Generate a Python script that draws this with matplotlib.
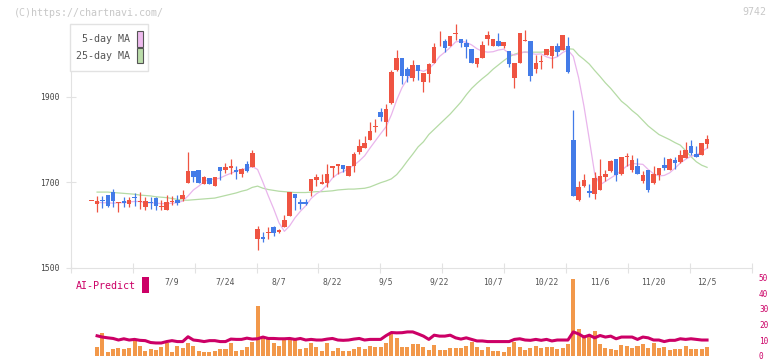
import numpy as np
import matplotlib
matplotlib.use("Agg")
import matplotlib.pyplot as plt
from matplotlib.patches import Rectangle

plt.rcParams['font.family'] = ['DejaVu Sans Mono']

# daily candles (yen), oldest first, last one is 12/5
opens = [1656, 1649, 1659, 1670, 1677, 1651, 1656, 1650, 1666, 1653,
         1641, 1654, 1663, 1641, 1635, 1653, 1659, 1661, 1699, 1727,
         1729, 1696, 1709, 1692, 1736, 1729, 1733, 1729, 1720, 1743,
         1736, 1567, 1572, 1580, 1596, 1584, 1594, 1620, 1673, 1654,
         1654, 1680, 1706, 1697, 1699, 1734, 1739, 1741, 1715, 1737,
         1772, 1781, 1799, 1829, 1865, 1842, 1886, 1963, 1992, 1966,
         1944, 1975, 1936, 1954, 1979, 2030, 2030, 2020, 2047, 2037,
         2026, 2012, 1977, 1992, 2037, 2020, 2031, 2020, 2008, 1945,
         1979, 2031, 2031, 1966, 1981, 1998, 1995, 2020, 2009, 2020,
         1800, 1659, 1692, 1680, 1673, 1682, 1713, 1727, 1755, 1720,
         1760, 1729, 1737, 1704, 1729, 1698, 1717, 1741, 1729, 1752,
         1748, 1758, 1784, 1766, 1764, 1789]
highs = [1656, 1667, 1668, 1671, 1684, 1653, 1666, 1665, 1674, 1677,
         1665, 1666, 1666, 1659, 1670, 1668, 1670, 1682, 1770, 1727,
         1729, 1715, 1709, 1713, 1736, 1745, 1754, 1738, 1734, 1750,
         1776, 1598, 1584, 1595, 1598, 1590, 1623, 1677, 1673, 1660,
         1661, 1708, 1720, 1719, 1743, 1738, 1743, 1741, 1738, 1772,
         1801, 1809, 1841, 1848, 1873, 1884, 1963, 2010, 1992, 1971,
         1987, 1975, 1957, 1980, 2026, 2055, 2036, 2043, 2071, 2037,
         2036, 2012, 1991, 2030, 2055, 2036, 2049, 2028, 2008, 1979,
         2049, 2057, 2031, 1998, 1998, 2013, 2020, 2026, 2045, 2041,
         1869, 1702, 1719, 1696, 1723, 1755, 1729, 1752, 1755, 1760,
         1768, 1764, 1758, 1727, 1729, 1738, 1733, 1760, 1758, 1760,
         1776, 1795, 1799, 1784, 1793, 1811]
lows = [1656, 1631, 1639, 1643, 1641, 1631, 1643, 1643, 1645, 1638,
        1635, 1637, 1635, 1635, 1635, 1647, 1646, 1657, 1699, 1700,
        1699, 1695, 1695, 1692, 1705, 1722, 1719, 1708, 1713, 1725,
        1736, 1541, 1561, 1568, 1573, 1582, 1594, 1620, 1635, 1637,
        1647, 1668, 1691, 1697, 1689, 1713, 1720, 1725, 1715, 1725,
        1766, 1781, 1799, 1819, 1844, 1809, 1883, 1961, 1931, 1936,
        1937, 1940, 1912, 1936, 1979, 2020, 2006, 2020, 2034, 2016,
        1991, 1980, 1971, 1992, 2022, 2020, 2020, 2014, 1971, 1922,
        1979, 2030, 1938, 1956, 1966, 1998, 1969, 1995, 2009, 1957,
        1669, 1657, 1690, 1666, 1661, 1682, 1704, 1725, 1704, 1718,
        1737, 1725, 1720, 1699, 1678, 1696, 1706, 1729, 1728, 1732,
        1745, 1758, 1764, 1760, 1764, 1781]
closes = [1656, 1655, 1655, 1645, 1655, 1653, 1651, 1659, 1662, 1656,
          1656, 1652, 1645, 1645, 1653, 1656, 1652, 1670, 1727, 1713,
          1699, 1712, 1695, 1712, 1727, 1735, 1738, 1725, 1730, 1727,
          1769, 1591, 1568, 1583, 1582, 1589, 1612, 1677, 1664, 1650,
          1648, 1708, 1712, 1700, 1720, 1737, 1743, 1731, 1738, 1766,
          1785, 1793, 1820, 1832, 1854, 1872, 1959, 1992, 1950, 1950,
          1975, 1962, 1957, 1977, 2016, 2031, 2014, 2042, 2049, 2026,
          2016, 1980, 1991, 2022, 2045, 2036, 2020, 2028, 1978, 1979,
          2049, 2032, 1950, 1979, 1984, 2013, 2020, 2005, 2045, 1958,
          1669, 1690, 1705, 1674, 1711, 1715, 1720, 1750, 1717, 1760,
          1761, 1752, 1720, 1717, 1681, 1720, 1733, 1734, 1755, 1746,
          1764, 1776, 1768, 1760, 1793, 1801]

# moving averages as drawn on the chart
ma5 = [np.nan, 1653, 1652, 1652, 1651, 1652, 1652, 1654, 1655, 1655,
       1652, 1652, 1651, 1650, 1650, 1651, 1652, 1656, 1668, 1682,
       1691, 1702, 1707, 1707, 1710, 1716, 1721, 1726, 1730, 1732,
       1737, 1730, 1700, 1668, 1638, 1605, 1585, 1598, 1617, 1632,
       1645, 1662, 1673, 1681, 1694, 1710, 1720, 1725, 1732, 1740,
       1750, 1762, 1780, 1797, 1814, 1830, 1858, 1893, 1922, 1942,
       1960, 1964, 1960, 1966, 1978, 1995, 2005, 2016, 2029, 2031,
       2028, 2022, 2013, 2007, 2005, 2006, 2010, 2012, 2002, 1998,
       2002, 2006, 2002, 2000, 2001, 1994, 1990, 1994, 2004, 2010,
       1995, 1945, 1878, 1800, 1720, 1694, 1702, 1710, 1718, 1728,
       1738, 1744, 1743, 1742, 1730, 1720, 1715, 1716, 1722, 1733,
       1745, 1754, 1761, 1764, 1772, 1780]
ma25 = [np.nan, 1677, 1677, 1677, 1676, 1675, 1674, 1673, 1672, 1670,
        1669, 1668, 1666, 1665, 1664, 1662, 1660, 1658, 1658, 1659,
        1660, 1661, 1662, 1663, 1666, 1669, 1672, 1675, 1679, 1682,
        1688, 1691, 1686, 1683, 1681, 1679, 1678, 1677, 1676, 1676,
        1676, 1677, 1678, 1678, 1679, 1680, 1682, 1683, 1684, 1684,
        1685, 1686, 1689, 1694, 1699, 1703, 1708, 1718, 1733, 1750,
        1766, 1783, 1795, 1812, 1824, 1836, 1848, 1860, 1874, 1888,
        1905, 1920, 1932, 1943, 1953, 1965, 1975, 1985, 1994, 2000,
        2004, 2005, 2005, 2005, 2005, 2006, 2008, 2009, 2011, 2013,
        2012, 1998, 1988, 1977, 1962, 1948, 1933, 1920, 1905, 1890,
        1880, 1868, 1858, 1845, 1832, 1822, 1812, 1806, 1800, 1793,
        1787, 1774, 1760, 1748, 1740, 1735]

# lower panel: volume bars and AI-Predict line (0-50 scale)
volume = [0, 5.3, 14.5, 2.2, 4.2, 4.8, 4.2, 4.8, 9.4, 5.9,
          2.8, 4.2, 3.4, 5.3, 7.9, 2.2, 5.9, 4.6, 8.4, 5.9,
          2.8, 2.2, 2.2, 3.2, 4.2, 4.2, 8.4, 2.8, 3.8, 5.3,
          9.0, 32.0, 11.0, 10.4, 8.4, 5.9, 11.2, 11.2, 11.2, 4.2,
          4.8, 7.9, 5.3, 3.2, 8.4, 3.2, 4.8, 2.8, 2.8, 4.2,
          5.3, 4.2, 6.3, 5.3, 5.3, 8.4, 13.9, 11.0, 5.3, 5.3,
          7.7, 7.7, 5.3, 3.4, 6.9, 3.4, 3.4, 4.6, 4.6, 4.6,
          6.3, 9.0, 5.3, 3.6, 5.3, 3.2, 3.2, 2.6, 5.7, 9.0,
          5.3, 3.6, 4.8, 5.9, 4.6, 5.3, 5.3, 4.2, 4.6, 7.7,
          49.2, 17.0, 13.5, 12.5, 15.8, 7.7, 4.6, 4.2, 3.4, 6.9,
          6.1, 4.6, 5.9, 7.7, 4.6, 8.4, 4.6, 5.3, 3.6, 4.2,
          4.2, 5.9, 4.2, 4.2, 4.2, 5.3]
ai_predict = [np.nan, 12.7, 11.9, 11.4, 11.0, 10.0, 10.8, 10.0, 10.4, 9.8,
              9.6, 8.4, 8.1, 8.1, 9.0, 9.6, 9.0, 9.0, 12.1, 10.0,
              9.6, 9.0, 9.6, 9.6, 9.0, 9.0, 10.6, 10.4, 10.4, 11.2,
              10.6, 10.8, 11.9, 11.0, 11.0, 10.8, 10.8, 11.0, 10.4, 11.0,
              10.0, 10.4, 10.0, 10.0, 10.6, 11.0, 10.0, 9.8, 10.0, 10.6,
              11.0, 10.0, 10.4, 10.4, 10.4, 12.8, 14.8, 14.6, 14.7, 15.2,
              15.2, 13.9, 12.5, 10.4, 13.1, 12.5, 12.5, 13.1, 11.4, 10.6,
              11.4, 10.4, 9.4, 9.4, 9.0, 9.0, 9.0, 9.0, 9.0, 10.4,
              10.8, 10.0, 9.8, 10.4, 9.8, 10.4, 9.4, 10.0, 10.0, 10.0,
              15.2, 13.9, 11.9, 13.1, 11.4, 12.9, 11.9, 12.5, 10.8, 11.9,
              11.9, 11.9, 10.4, 11.9, 11.4, 10.0, 10.0, 9.0, 9.8, 9.8,
              10.8, 10.4, 10.8, 10.4, 10.0, 10.0]

date_labels = ["7/9", "7/24", "8/7", "8/22", "9/5", "9/22",
               "10/7", "10/22", "11/6", "11/20", "12/5"]
date_pos = [15, 25, 35, 45, 55, 65, 75, 85, 95, 105, 115]
price_ticks = [1500, 1700, 1900]
ai_ticks = [0, 10, 20, 30, 40, 50]

RED = "#ef5442"
BLUE = "#437be8"
GRID = "#e2e2e2"
MAGENTA = "#cc0066"

W, H = 772, 361


def px(x0, y0, x1, y1):
    # pixel box (top-left origin) -> figure fraction rect
    return [x0 / W, 1 - y1 / H, (x1 - x0) / W, (y1 - y0) / H]


o = np.array(opens, float)
hi = np.array(highs, float)
lo = np.array(lows, float)
c = np.array(closes, float)
idx = np.arange(len(c))
up = c >= o
cols = np.where(up, RED, BLUE)

fig = plt.figure(figsize=(W / 100, H / 100), dpi=100)

# price panel
ax = fig.add_axes(px(70.7, 24, 752, 267.6))
x0, x1 = -3.93, 123.4
ax.set_xlim(x0, x1)
ax.set_ylim(1500, 2071)

ax.plot(idx, ma25, color="#b5dba5", lw=0.9, zorder=1)
ax.plot(idx, ma5, color="#e9b5ec", lw=0.9, zorder=1)
ax.vlines(idx, lo, hi, colors=cols, lw=0.9, zorder=2)
body = np.maximum(np.abs(c - o), 2.2)
ax.bar(idx, body, bottom=np.minimum(o, c), width=0.85, color=cols,
       linewidth=0, zorder=3)

for s in ["top", "right"]:
    ax.spines[s].set_visible(False)
for s in ["left", "bottom"]:
    ax.spines[s].set_color(GRID)
    ax.spines[s].set_linewidth(0.8)

ax.set_yticks(price_ticks)
ax.set_yticklabels([str(t) for t in price_ticks])
ax.tick_params(axis="y", direction="inout", length=6.5, width=0.8,
               color=GRID, labelcolor="#444444", labelsize=5.8, pad=4.5)
ax.set_xticks(np.linspace(x0, x1, 12))
ax.set_xticklabels([])
ax.tick_params(axis="x", direction="inout", length=7.2, width=0.8, color=GRID)

for lab, pos in zip(date_labels, date_pos):
    ax.text(pos, -0.059, lab, transform=ax.get_xaxis_transform(),
            ha="center", va="center", fontsize=5.8, color="#555555")

# volume / AI panel
ax2 = fig.add_axes(px(70.7, 277.7, 752, 355.6))
ax2.set_xlim(x0, x1)
ax2.set_ylim(0, 50)
ax2.bar(idx, volume, width=0.75, color="#f2984a", linewidth=0, zorder=1)
ax2.plot(idx, ai_predict, color=MAGENTA, lw=2.2, zorder=2)
for s in ax2.spines.values():
    s.set_visible(False)
ax2.set_xticks([])
ax2.yaxis.tick_right()
ax2.set_yticks(ai_ticks)
ax2.tick_params(axis="y", length=0, labelcolor=MAGENTA, labelsize=5.6, pad=5)
ax2.patch.set_visible(False)

# overlay for legend and captions, in pixel coords
ov = fig.add_axes([0, 0, 1, 1], zorder=5)
ov.set_xlim(0, W)
ov.set_ylim(H, 0)
ov.axis("off")

ov.text(14, 12.7, "(C)https://chartnavi.com/", fontsize=7.2, color="#c8c8c8",
        ha="left", va="center")
ov.text(766, 12, "9742", fontsize=7.2, color="#c8c8c8", ha="right", va="center")

ov.add_patch(Rectangle((70.3, 24), 78, 47, facecolor="white",
                       edgecolor=GRID, lw=1))
ov.text(129.5, 39.5, "5-day MA", fontsize=7.2, color="#555555",
        ha="right", va="center")
ov.text(129.5, 56, "25-day MA", fontsize=7.2, color="#555555",
        ha="right", va="center")
ov.add_patch(Rectangle((136.5, 31), 6, 15.5, facecolor="#eebbee",
                       edgecolor="#555555", lw=0.8))
ov.add_patch(Rectangle((136.5, 48.3), 6, 15, facecolor="#bbddaa",
                       edgecolor="#555555", lw=0.8))

ov.text(76, 286, "AI-Predict", fontsize=7.2, color=MAGENTA,
        ha="left", va="center")
ov.add_patch(Rectangle((142.3, 277.3), 6.4, 15.4, facecolor=MAGENTA,
                       edgecolor="none"))

fig.savefig("out.png", dpi=100)
